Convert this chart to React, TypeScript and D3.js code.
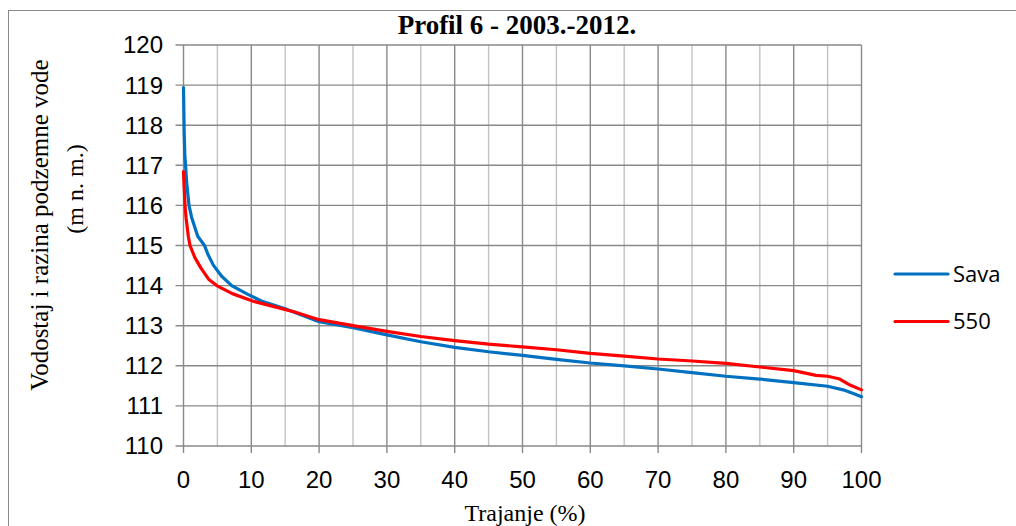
import React from "react";
import * as d3 from "d3";

const durationSava = [0, 0.1, 0.2, 0.47, 0.81, 1.2, 2.1, 3.1, 3.6, 4.4, 5.6, 7.1, 9.5, 11.7, 15, 20, 25, 30, 35, 40, 45, 50, 55, 60, 65, 70, 75, 80, 85, 90, 95, 97.3, 98.8, 100];
const levelSava = [118.94, 117.8, 117.25, 116.57, 116.0, 115.7, 115.23, 115.0, 114.78, 114.51, 114.24, 114.0, 113.78, 113.6, 113.42, 113.1, 112.95, 112.77, 112.6, 112.46, 112.35, 112.26, 112.16, 112.07, 112.0, 111.92, 111.83, 111.74, 111.67, 111.58, 111.49, 111.4, 111.31, 111.23];

const duration550 = [0, 0.07, 0.22, 0.37, 0.71, 0.96, 1.7, 2.6, 3.7, 4.9, 7.2, 10.5, 13.5, 16.4, 20, 25, 30, 35, 40, 45, 50, 55, 60, 65, 70, 75, 80, 85, 90, 93.3, 95, 96.8, 98.3, 100];
const level550 = [116.84, 116.57, 116.0, 115.7, 115.23, 115.0, 114.69, 114.43, 114.16, 114.0, 113.8, 113.6, 113.47, 113.34, 113.15, 113.0, 112.86, 112.73, 112.63, 112.54, 112.47, 112.4, 112.31, 112.24, 112.17, 112.12, 112.06, 111.97, 111.88, 111.76, 111.74, 111.67, 111.52, 111.4];

const xTicks = [0, 10, 20, 30, 40, 50, 60, 70, 80, 90, 100];
const xMinor = [5, 15, 25, 35, 45, 55, 65, 75, 85, 95];
const yTicks = [110, 111, 112, 113, 114, 115, 116, 117, 118, 119, 120];

const seriesNames = ["Sava", "550"];
const seriesColors = ["#0070C0", "#FF0000"];

const title = "Profil 6 - 2003.-2012.";
const xTitle = "Trajanje (%)";
const yTitle1 = "Vodostaj i razina podzemne vode";
const yTitle2 = "(m n. m.)";

export default function App() {
  const W = 1016, H = 526;
  const left = 183.5, right = 861.5, top = 45, bottom = 446;
  const x = d3.scaleLinear().domain([0, 100]).range([left, right]);
  const y = d3.scaleLinear().domain([110, 120]).range([bottom, top]);
  const line = d3.line<[number, number]>().x(d => x(d[0])).y(d => y(d[1]));
  const dSava = line(durationSava.map((v, i) => [v, levelSava[i]]) as [number, number][]) || "";
  const d550 = line(duration550.map((v, i) => [v, level550[i]]) as [number, number][]) || "";
  const paths = [dSava, d550];
  const grid = "#898989";
  const minorGrid = "#c3c3c3";
  const serif = "'Liberation Serif', 'Times New Roman', serif";
  const sans = "'Liberation Sans', Arial, sans-serif";

  return (
    <svg width={W} height={H} style={{ position: "absolute", left: 0, top: 0, background: "#fff" }}>
      <rect x={8.5} y={10.5} width={1100} height={600} fill="#fff" stroke="#8a8a8a" strokeWidth={1} />
      {xMinor.map(t => (
        <line key={"mn" + t} x1={x(t)} x2={x(t)} y1={top} y2={bottom} stroke={minorGrid} strokeWidth={1.4} />
      ))}
      {yTicks.map(t => (
        <line key={"hy" + t} x1={left - 8} x2={right} y1={y(t)} y2={y(t)} stroke={grid} strokeWidth={1.4} />
      ))}
      {xTicks.map(t => (
        <line key={"vx" + t} x1={x(t)} x2={x(t)} y1={top} y2={bottom + 7} stroke={grid} strokeWidth={1.4} />
      ))}
      {yTicks.map(t => (
        <text key={"ly" + t} x={163} y={y(t)} dy="0.35em" textAnchor="end" fontFamily={sans} fontSize={24} fill="#000">{t}</text>
      ))}
      {xTicks.map(t => (
        <text key={"lx" + t} x={x(t)} y={488} textAnchor="middle" fontFamily={sans} fontSize={24} fill="#000">{t}</text>
      ))}
      {paths.map((p, i) => (
        <path key={"p" + i} d={p} fill="none" stroke={seriesColors[i]} strokeWidth={3.2} strokeLinejoin="round" strokeLinecap="round" />
      ))}
      <text x={517} y={34} textAnchor="middle" fontFamily={serif} fontWeight="bold" fontSize={27}>{title}</text>
      <text x={525} y={521} textAnchor="middle" fontFamily={serif} fontSize={24}>{xTitle}</text>
      <text transform="translate(48,225) rotate(-90)" textAnchor="middle" fontFamily={serif} fontSize={25}>{yTitle1}</text>
      <text transform="translate(83,189) rotate(-90)" textAnchor="middle" fontFamily={serif} fontSize={24}>{yTitle2}</text>
      {seriesNames.map((n, i) => (
        <g key={"lg" + i}>
          <line x1={895} x2={948} y1={274 + i * 47.5} y2={274 + i * 47.5} stroke={seriesColors[i]} strokeWidth={3.2} strokeLinecap="round" />
          <text x={953} y={274 + i * 47.5} dy="0.36em" fontFamily="'Open Sans', sans-serif" fontSize={22}>{n}</text>
        </g>
      ))}
    </svg>
  );
}
